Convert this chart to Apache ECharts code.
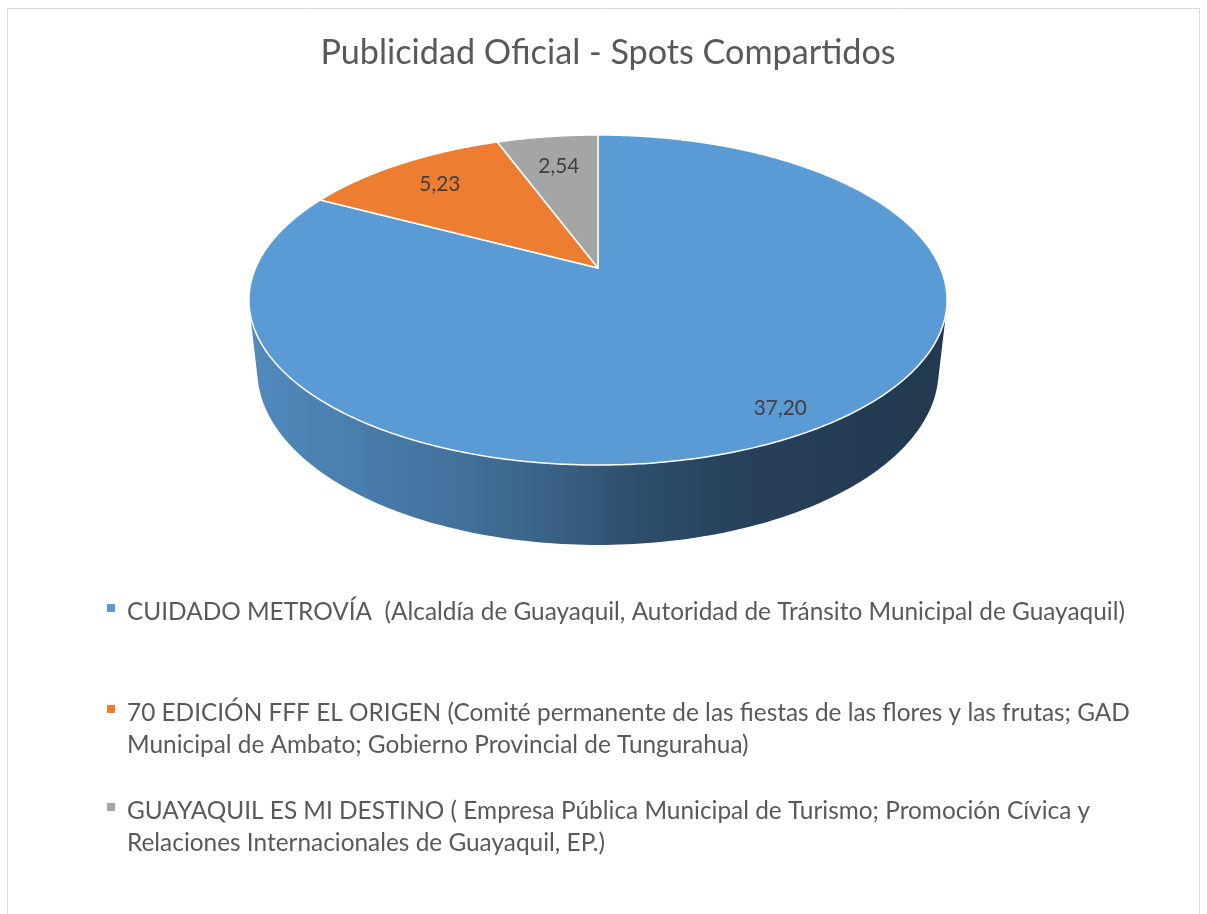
<!DOCTYPE html>
<html><head><meta charset="utf-8">
<script src="https://cdn.jsdelivr.net/npm/echarts@6/dist/echarts.min.js"></script>
<style>html,body{margin:0;padding:0;background:#fff}#c{width:1207px;height:914px}</style>
</head><body><div id="c"></div>
<script>
// ---------- data ----------
const titleText = 'Publicidad Oficial - Spots Compartidos';
const categories = [
  'CUIDADO METROVÍA  (Alcaldía de Guayaquil, Autoridad de Tránsito Municipal de Guayaquil)',
  '70 EDICIÓN FFF EL ORIGEN (Comité permanente de las fiestas de las flores y las frutas; GAD Municipal de Ambato; Gobierno Provincial de Tungurahua)',
  'GUAYAQUIL ES MI DESTINO ( Empresa Pública Municipal de Turismo; Promoción Cívica y Relaciones Internacionales de Guayaquil, EP.)'
];
const values = [37.20, 5.23, 2.54];

// ---------- style / layout ----------
const colors = ['#5b9bd5', '#ed7d31', '#a5a5a5'];
const labelRadius = [0.88, 0.78, 0.74];
const legendFirstLine = [612, 713, 811];
const FONT = 'Lato';
const LINE_H = 32;
const wallShade = [[0, 0.89], [0.1, 0.84], [0.3, 0.73], [0.45, 0.61], [0.55, 0.51], [0.7, 0.42], [1, 0.37]];

const ctx = document.createElement('canvas').getContext('2d');
function measure(text, size) { ctx.font = size + 'px ' + FONT; return ctx.measureText(text).width; }
function fitSize(text, target) { return Math.round(100 * target / measure(text, 100) * 10) / 10; }
function wrap(text, size, maxW) {
  const words = text.split(' ');
  const lines = [];
  let cur = '';
  words.forEach((w, k) => {
    const cand = k === 0 ? w : cur + ' ' + w;
    if (k > 0 && cur !== '' && measure(cand, size) > maxW) { lines.push(cur); cur = w; }
    else cur = cand;
  });
  lines.push(cur);
  return lines;
}
const fmt = v => v.toFixed(2).replace('.', ',');
const titleSize = fitSize(titleText, 576);
const legendSize = fitSize(categories[0], 998);
const labelSize = fitSize('37,20', 53);
const titleW = measure(titleText, titleSize);
const LEGEND_W = 1040;

// perspective projection of the 3D pie
const CX = 598, CY = 268, F = 1563.8, DIST = 4.567, SINA = 0.4638, COSA = Math.sqrt(1 - SINA * SINA), DEPTH = 0.234;
function proj(r, th, h) {
  const x = r * Math.sin(th), z = r * Math.cos(th), y = -DEPTH * h;
  const dep = DIST - y * SINA + z * COSA;
  return [CX + F * x / dep, CY - F * (y * COSA + z * SINA) / dep];
}
const total = values.reduce((a, b) => a + b, 0);
function angles(i) {
  let acc = 0;
  for (let k = 0; k < i; k++) acc += values[k];
  return [acc / total * 2 * Math.PI, (acc + values[i]) / total * 2 * Math.PI];
}
const C_Z = DIST * COSA;
const TH_MIN = Math.acos(-1 / C_Z), TH_MAX = 2 * Math.PI - TH_MIN;
function hexRgb(h) { return [1, 3, 5].map(k => parseInt(h.substr(k, 2), 16)); }
function shade(hex, m) { const c = hexRgb(hex).map(v => Math.round(v * m)); return 'rgb(' + c.join(',') + ')'; }

function makeRender(i) {
  return function (params, api) {
    const [a0, a1] = angles(i);
    const children = [];
    // side wall (visible front part only)
    const w0 = Math.max(a0, TH_MIN), w1 = Math.min(a1, TH_MAX);
    if (w1 > w0) {
      const n = Math.max(2, Math.ceil((w1 - w0) / (Math.PI / 180)));
      const pts = [];
      for (let k = 0; k <= n; k++) pts.push(proj(1, w0 + (w1 - w0) * k / n, 0));
      for (let k = n; k >= 0; k--) pts.push(proj(1, w0 + (w1 - w0) * k / n, 1));
      const L = proj(1, TH_MAX, 0)[0] - 2, R = proj(1, TH_MIN, 0)[0] + 2;
      children.push({
        type: 'polygon', shape: { points: pts },
        style: { fill: new echarts.graphic.LinearGradient(L, 0, R, 0,
          wallShade.map(s => ({ offset: s[0], color: shade(colors[i], s[1]) })), true) }
      });
    }
    // top face
    const n = Math.max(2, Math.ceil((a1 - a0) / (Math.PI / 360)));
    const top = [proj(0, 0, 0)];
    for (let k = 0; k <= n; k++) top.push(proj(1, a0 + (a1 - a0) * k / n, 0));
    children.push({
      type: 'polygon', shape: { points: top },
      style: { fill: colors[i], stroke: '#ffffff', lineWidth: 1.5, lineJoin: 'round' }
    });
    const lp = proj(labelRadius[i], (a0 + a1) / 2, 0);
    children.push({
      type: 'text', z2: 10,
      style: { text: fmt(api.value(0)), x: lp[0], y: lp[1], align: 'center', verticalAlign: 'middle',
        fill: '#404040', fontSize: labelSize, fontFamily: FONT }
    });
    return { type: 'group', children };
  };
}

// legend: one block per entry; the marker sits beside the first text line
const legends = categories.map((name, i) => {
  const lines = wrap(name, legendSize, LEGEND_W);
  const H = LINE_H * lines.length;
  const icon = 'path://M0,0L8,0M0,8L8,8L8,16L0,16ZM0,' + H + 'L8,' + H;
  return {
    data: [name], left: 107, top: legendFirstLine[i] - LINE_H / 2,
    orient: 'vertical', padding: 0, icon, itemWidth: 8, itemHeight: H, selectedMode: false,
    itemStyle: { borderWidth: 0 },
    formatter: () => lines.join('\n'),
    textStyle: { fontFamily: FONT, fontSize: legendSize, color: '#595959', lineHeight: LINE_H,
      padding: [0, 0, 0, 7] }
  };
});

const chart = echarts.init(document.getElementById('c'), null, { renderer: 'canvas' });
chart.setOption({
  animation: false,
  backgroundColor: '#ffffff',
  color: colors,
  title: {
    text: titleText, left: 608 - titleW / 2, top: 33, padding: 0,
    textStyle: { fontFamily: FONT, fontSize: titleSize, fontWeight: 'normal', color: '#595959', lineHeight: 40 }
  },
  legend: legends,
  graphic: [{
    type: 'rect', silent: true, z: -10,
    shape: { x: 7.5, y: 8.5, width: 1192, height: 940 },
    style: { fill: 'none', stroke: '#d9d9d9', lineWidth: 1 }
  }],
  series: categories.map((name, i) => ({
    type: 'custom', name, coordinateSystem: 'none', silent: true,
    itemStyle: { color: colors[i] },
    data: [values[i]],
    renderItem: makeRender(i),
    z: 2
  }))
});
</script>
</body></html>
